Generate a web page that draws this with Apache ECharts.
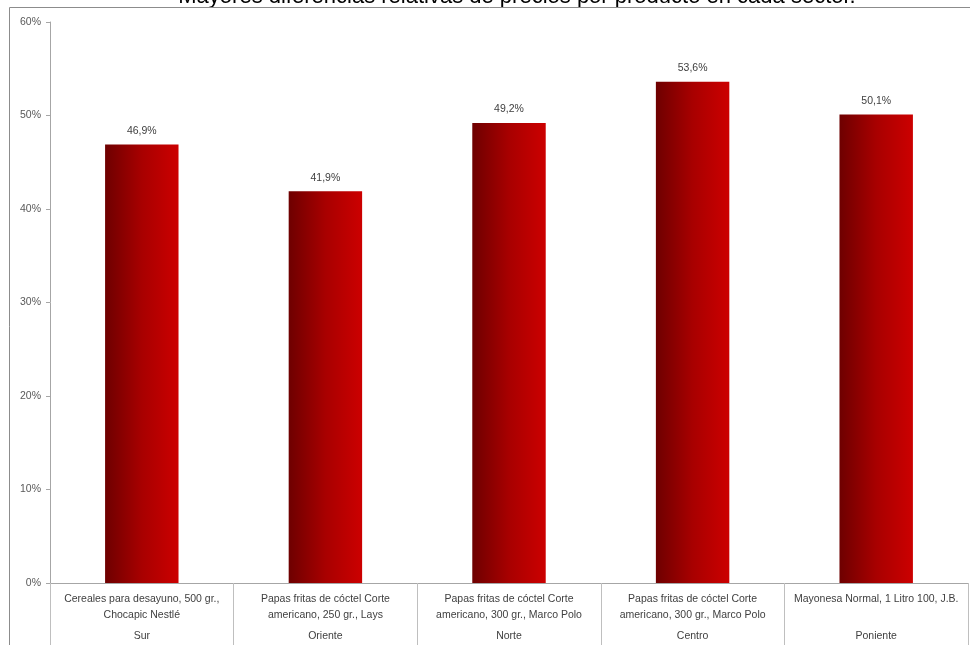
<!DOCTYPE html>
<html>
<head>
<meta charset="utf-8">
<script src="https://cdn.jsdelivr.net/npm/echarts@6/dist/echarts.min.js"></script>
<style>
html,body{margin:0;padding:0;background:#fff;}
#chart{width:970px;height:645px;}
</style>
</head>
<body>
<div id="chart"></div>
<script>
const titleText = 'Mayores diferencias relativas de precios por producto en cada sector.';
const products = [
  'Cereales para desayuno, 500 gr.,\nChocapic Nestlé',
  'Papas fritas de cóctel Corte\namericano, 250 gr., Lays',
  'Papas fritas de cóctel Corte\namericano, 300 gr., Marco Polo',
  'Papas fritas de cóctel Corte\namericano, 300 gr., Marco Polo',
  'Mayonesa Normal, 1 Litro 100, J.B.\n '
];
const sectors = ['Sur', 'Oriente', 'Norte', 'Centro', 'Poniente'];
const values = [46.9, 41.9, 49.2, 53.6, 50.1];
const yTicks = { min: 0, max: 60, interval: 10 };

const font = 'Liberation Sans';
const chart = echarts.init(document.getElementById('chart'));
chart.setOption({
  animation: false,
  backgroundColor: '#ffffff',
  title: {
    text: titleText,
    left: 512,
    textAlign: 'center',
    top: -19,
    textStyle: { fontFamily: font, fontSize: 22, fontWeight: 'normal', color: '#000' }
  },
  graphic: [
    { type: 'rect', shape: { x: 0, y: 8, width: 970, height: 637 }, style: { fill: '#fff' }, z: -1, silent: true },
    { type: 'line', shape: { x1: 9.5, y1: 7.5, x2: 970, y2: 7.5 }, style: { stroke: '#8c8c8c', lineWidth: 1 }, z: 10 },
    { type: 'line', shape: { x1: 9.5, y1: 7.5, x2: 9.5, y2: 645 }, style: { stroke: '#8c8c8c', lineWidth: 1 }, z: 10 }
  ],
  grid: { left: 50, right: 2, top: 22, bottom: 62 },
  xAxis: [
    {
      type: 'category',
      data: products,
      position: 'bottom',
      axisLine: { lineStyle: { color: '#a6a6a6' } },
      axisTick: { show: true, length: 64, lineStyle: { color: '#bfbfbf' } },
      axisLabel: { interval: 0, margin: 8, lineHeight: 16, fontFamily: font, fontSize: 10.5, color: '#404040' }
    },
    {
      type: 'category',
      data: sectors,
      position: 'bottom',
      axisLine: { show: false },
      axisTick: { show: false },
      axisLabel: { interval: 0, margin: 48, fontFamily: font, fontSize: 10.5, color: '#404040' }
    }
  ],
  yAxis: {
    type: 'value',
    min: yTicks.min,
    max: yTicks.max,
    interval: yTicks.interval,
    splitLine: { show: false },
    axisLine: { show: true, lineStyle: { color: '#a6a6a6' } },
    axisTick: { show: true, length: 4, lineStyle: { color: '#a6a6a6' } },
    axisLabel: { formatter: '{value}%', fontFamily: font, fontSize: 10.5, color: '#595959', margin: 9 }
  },
  series: [{
    type: 'bar',
    xAxisIndex: 0,
    data: values,
    barWidth: '40%',
    itemStyle: {
      color: new echarts.graphic.LinearGradient(0, 0, 1, 0, [
        { offset: 0, color: '#6e0000' },
        { offset: 0.5, color: '#a80000' },
        { offset: 1, color: '#cc0000' }
      ])
    },
    label: {
      show: true,
      position: 'top',
      distance: 8,
      fontFamily: font,
      fontSize: 10.5,
      color: '#404040',
      formatter: p => p.value.toFixed(1).replace('.', ',') + '%'
    }
  }]
});
</script>
</body>
</html>
